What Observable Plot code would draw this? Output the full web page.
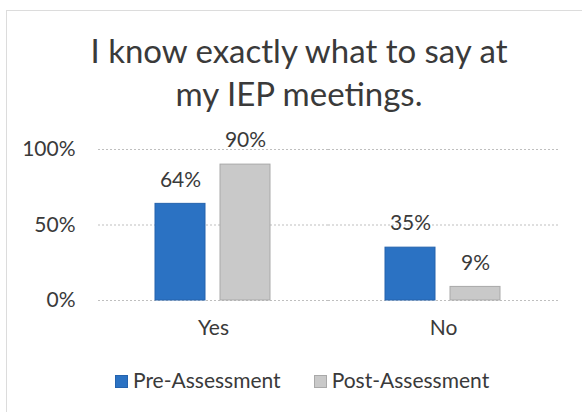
<!DOCTYPE html>
<html>
<head>
<meta charset="utf-8">
<script src="https://cdn.jsdelivr.net/npm/d3@7"></script>
<script src="https://cdn.jsdelivr.net/npm/@observablehq/plot@0.6"></script>
<style>
  html, body { margin: 0; padding: 0; background: #fff; width: 582px; height: 412px; overflow: hidden; }
  #frame { position: absolute; left: 6px; top: 10px; width: 600px; height: 420px; border-left: 1px solid #dcdcdc; border-top: 1px solid #dcdcdc; }
  #title { position: absolute; left: 8px; top: 29px; width: 582px; text-align: center; font-family: Lato, "Open Sans", sans-serif; font-size: 33px; line-height: 43px; color: #3a3a3a; }
  #chart { position: absolute; left: 0; top: 0; }
  #legend { position: absolute; top: 367px; left: 115px; display: flex; gap: 33px; font-family: Lato, "Open Sans", sans-serif; font-size: 21px; line-height: 25px; color: #3a3a3a; white-space: nowrap; }
  #legend span.sw { display: inline-block; width: 13px; height: 13px; margin-right: 5px; vertical-align: baseline; box-sizing: border-box; }
</style>
</head>
<body>
<div id="frame"></div>
<div id="title">I know exactly what to say at<br>my IEP meetings.</div>
<div id="chart"></div>
<div id="legend"></div>
<script>
const categories = ["Yes", "No"];
const seriesNames = ["Pre-Assessment", "Post-Assessment"];
const preValues = [64, 35];
const postValues = [90, 9];
const yTicks = [0, 50, 100];
const colors = ["#2b72c3", "#c9c9c9"];
const strokes = ["#2563ad", "#a9a9a9"];

const data = [];
categories.forEach((c, i) => {
  data.push({category: c, series: seriesNames[0], value: preValues[i]});
  data.push({category: c, series: seriesNames[1], value: postValues[i]});
});

const chart = Plot.plot({
  width: 582,
  height: 345,
  marginTop: 149,
  marginBottom: 45,
  marginLeft: 98,
  marginRight: 24,
  style: {fontFamily: "Lato, 'Open Sans', sans-serif", fontSize: "21px", color: "#3a3a3a", background: "transparent"},
  fx: {domain: categories, padding: 0, label: null, tickSize: 0, tickPadding: 20},
  x: {domain: seriesNames, paddingInner: 0.227, paddingOuter: 0.856, axis: null},
  y: {domain: [0, 100], ticks: yTicks, tickFormat: d => d + "%", tickSize: 0, tickPadding: 23, label: null},
  color: {domain: seriesNames, range: colors},
  marks: [
    Plot.gridY(yTicks, {stroke: "#bfbfbf", strokeOpacity: 1, strokeDasharray: "2,2", strokeWidth: 1}),
    Plot.barY(data, {fx: "category", x: "series", y: "value", fill: "series", stroke: d => strokes[seriesNames.indexOf(d.series)], strokeWidth: 1}),
    Plot.text(data, {fx: "category", x: "series", y: "value", text: d => d.value + "%", dy: -24, fill: "#3a3a3a", fontSize: 21})
  ]
});
document.getElementById("chart").appendChild(chart);

const legend = document.getElementById("legend");
seriesNames.forEach((s, i) => {
  const item = document.createElement("div");
  item.innerHTML = `<span class="sw" style="background:${colors[i]};border:1px solid ${strokes[i]}"></span>${s}`;
  legend.appendChild(item);
});
</script>
</body>
</html>
